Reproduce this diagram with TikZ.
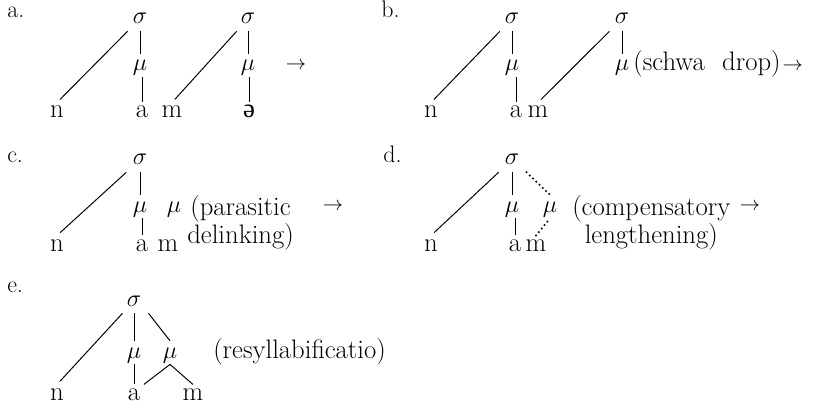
\documentclass[tikz,border=0pt]{standalone}
\usepackage{fontspec}
\newfontfamily\ipafont{Liberation Serif}
\usetikzlibrary{positioning}

\begin{document}
\begin{tikzpicture}[
    x=0.025cm, y=-0.025cm,
    font=\fontsize{19pt}{15pt}\selectfont,
    tier/.style={inner sep=5pt, anchor=base, font=\fontsize{17pt}{17pt}\selectfont},
    mora/.style={inner sep=1pt, text height=11pt, anchor=base, font=\fontsize{17pt}{17pt}\selectfont},
    seg/.style={inner sep=2.5pt, anchor=base},
    ex/.style={inner sep=0pt, anchor=base west, font=\fontsize{17pt}{17pt}\selectfont},
    txt/.style={inner sep=0pt, anchor=base west},
    gloss/.style={inner sep=0pt, align=center, anchor=north west},
    rule/.style={inner sep=0pt, font=\fontsize{14pt}{14pt}\selectfont},
    link/.style={line width=0.7pt},
    diag/.style={link, shorten <=3pt},
    newlink/.style={line width=1.6pt, line cap=round, dash pattern=on 0pt off 3.2pt}
]
\useasboundingbox (0,0) rectangle (813,406);

% a. underlying form
\node[ex] (la) at (7,18) {a.};
\node[tier] (as1) at (140,24) {$\sigma$};
\node[mora] (am1) at (140,71) {$\mu$};
\node[seg] (an) at (57,118) {n};
\node[seg] (aa) at (142,118) {a};
\node[seg] (am) at (172,118) {m};
\node[tier] (as2) at (248,24) {$\sigma$};
\node[mora] (am2) at (248,71) {$\mu$};
\node[seg] (ae) at (249,118) {{\ipafont ə}};
\node[rule, anchor=base] (ar) at (296,70) {$\rightarrow$};

\draw[diag] (an.north) -- (as1);
\draw[link] (as1) -- (am1);
\draw[link] (aa.north) -- (aa.north |- am1.south);
\draw[diag] (am.north) -- (as2);
\draw[link] (as2) -- (am2);
\draw[link] (ae.north) -- (ae.north |- am2.south);

% b. schwa drop
\node[ex] (lb) at (381,18) {b.};
\node[tier] (bs1) at (512,24) {$\sigma$};
\node[mora] (bm1) at (512,71) {$\mu$};
\node[seg] (bn) at (431,118) {n};
\node[seg] (ba) at (516,118) {a};
\node[seg] (bm) at (538,118) {m};
\node[tier] (bs2) at (622,24) {$\sigma$};
\node[mora] (bm2) at (622,71) {$\mu$};
\node[txt] (bg) at (633,71) {(schwa\hspace{0.65em}drop)};
\node[rule, right=1pt of bg.base east, anchor=base west] (br) {$\rightarrow$};

\draw[diag] (bn.north) -- (bs1);
\draw[link] (bs1) -- (bm1);
\draw[link] (ba.north) -- (ba.north |- bm1.south);
\draw[diag] (bm.north) -- (bs2);
\draw[link] (bs2) -- (bm2);

% c. parasitic delinking
\node[ex] (lc) at (7,163) {c.};
\node[tier] (cs) at (140,165) {$\sigma$};
\node[mora] (cm1) at (140,212) {$\mu$};
\node[mora] (cm2) at (174,212) {$\mu$};
\node[seg] (cn) at (57,251) {n};
\node[seg] (ca) at (142,251) {a};
\node[seg] (cm) at (168,251) {m};
\node[gloss] (cg) at (187,195) {(parasitic\\delinking)};
\node[rule, anchor=base] (cr) at (333,210) {$\rightarrow$};

\draw[diag] (cn.north) -- (cs);
\draw[link] (cs) -- (cm1);
\draw[link] (ca.north) -- (ca.north |- cm1.south);

% d. compensatory lengthening
\node[ex] (ld) at (383,163) {d.};
\node[tier] (ds) at (512,165) {$\sigma$};
\node[mora] (dm1) at (512,212) {$\mu$};
\node[mora] (dm2) at (550,212) {$\mu$};
\node[seg] (dn) at (431,251) {n};
\node[seg] (da) at (515,251) {a};
\node[seg] (dm) at (536,251) {m};
\node[gloss] (dg) at (572,195) {(compensatory\\lengthening)};
\node[rule, anchor=base] (dr) at (750,210) {$\rightarrow$};

\draw[diag] (dn.north) -- (ds);
\draw[link] (ds) -- (dm1);
\draw[link] (da.north) -- (da.north |- dm1.south);
\draw[newlink] (ds.south east) -- (dm2.north);
\draw[newlink] (dm.north) -- (dm2.south);

% e. resyllabification
\node[ex] (le) at (7,292) {e.};
\node[tier] (es) at (134,306) {$\sigma$};
\node[mora] (em1) at (134,358) {$\mu$};
\node[mora] (em2) at (170,358) {$\mu$};
\node[seg] (en) at (57,400) {n};
\node[seg] (ea) at (134,400) {a};
\node[seg] (em) at (193,400) {m};
\node[txt] (eg) at (213,358) {(resyllabificatio)};

\draw[diag] (en.north) -- (es);
\draw[link] (es) -- (em1);
\draw[link] (es.south east) -- (em2.north);
\draw[link] (ea.north) -- (ea.north |- em1.south);
\draw[link] (em2.south) -- (ea.north east);
\draw[link] (em2.south) -- (em.north);

\end{tikzpicture}
\end{document}
